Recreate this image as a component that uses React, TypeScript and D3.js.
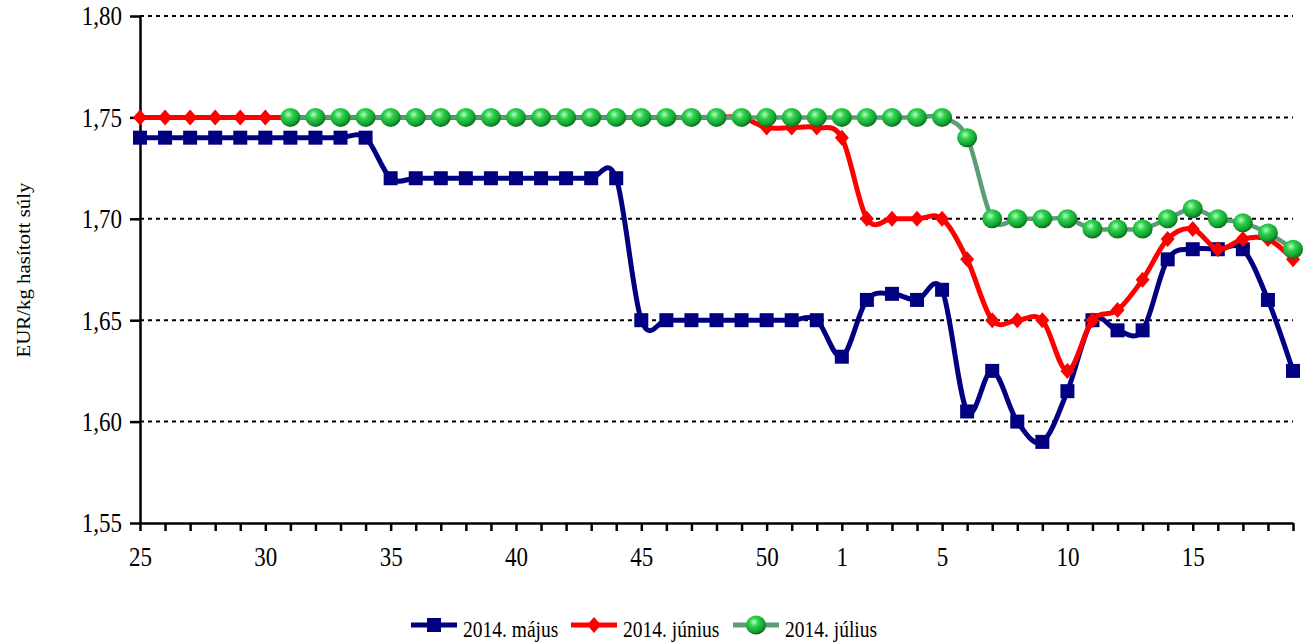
import { useEffect, useRef } from 'react';
import * as d3 from 'd3';

// week numbers from 2014 week 25 to 2015 week 19
const weeks = [
  '25', '26', '27', '28', '29', '30', '31', '32', '33', '34', '35', '36', '37', '38',
  '39', '40', '41', '42', '43', '44', '45', '46', '47', '48', '49', '50', '51', '52',
  '1', '2', '3', '4', '5', '6', '7', '8', '9', '10', '11', '12', '13', '14', '15',
  '16', '17', '18', '19',
];
const labelledWeeks = ['25', '30', '35', '40', '45', '50', '1', '5', '10', '15'];

const mayValues = [
  1.74, 1.74, 1.74, 1.74, 1.74, 1.74, 1.74, 1.74, 1.74, 1.74,
  1.72, 1.72, 1.72, 1.72, 1.72, 1.72, 1.72, 1.72, 1.72, 1.72,
  1.65, 1.65, 1.65, 1.65, 1.65, 1.65, 1.65, 1.65,
  1.632, 1.66, 1.663, 1.66, 1.665, 1.605, 1.625, 1.6, 1.59, 1.615,
  1.65, 1.645, 1.645, 1.68, 1.685, 1.685, 1.685, 1.66, 1.625,
];

const juneValues = [
  1.75, 1.75, 1.75, 1.75, 1.75, 1.75, 1.75, 1.75, 1.75, 1.75,
  1.75, 1.75, 1.75, 1.75, 1.75, 1.75, 1.75, 1.75, 1.75, 1.75,
  1.75, 1.75, 1.75, 1.75, 1.75, 1.745, 1.745, 1.745,
  1.74, 1.7, 1.7, 1.7, 1.7, 1.68, 1.65, 1.65, 1.65, 1.625,
  1.65, 1.655, 1.67, 1.69, 1.695, 1.685, 1.69, 1.69, 1.68,
];

const julyValues: (number | null)[] = [
  null, null, null, null, null, null, 1.75, 1.75, 1.75, 1.75,
  1.75, 1.75, 1.75, 1.75, 1.75, 1.75, 1.75, 1.75, 1.75, 1.75,
  1.75, 1.75, 1.75, 1.75, 1.75, 1.75, 1.75, 1.75,
  1.75, 1.75, 1.75, 1.75, 1.75, 1.74, 1.7, 1.7, 1.7, 1.7,
  1.695, 1.695, 1.695, 1.7, 1.705, 1.7, 1.698, 1.693, 1.685,
];

const seriesNames = ['2014. május', '2014. június', '2014. július'];
const seriesColors = ['#000080', '#ff0000', '#5c9c77'];
const seriesMarkers = ['square', 'diamond', 'ball'];
const yTicks = [1.55, 1.6, 1.65, 1.7, 1.75, 1.8];
const yTitle = 'EUR/kg hasított súly';

const FONT = '"Liberation Serif", "Times New Roman", serif';
const STRETCH = 1.16;

type Sel = d3.Selection<SVGGElement, unknown, null, undefined>;

function drawMarker(g: Sel, kind: string, cx: number, cy: number) {
  if (kind === 'square') {
    g.append('rect')
      .attr('x', cx - 7)
      .attr('y', cy - 7)
      .attr('width', 14)
      .attr('height', 14)
      .attr('fill', '#000080');
  } else if (kind === 'diamond') {
    g.append('path')
      .attr('d', `M${cx},${cy - 8}L${cx + 7},${cy}L${cx},${cy + 8}L${cx - 7},${cy}Z`)
      .attr('fill', '#ff0000');
  } else {
    g.append('ellipse')
      .attr('cx', cx)
      .attr('cy', cy)
      .attr('rx', 10)
      .attr('ry', 9.5)
      .attr('fill', 'url(#ballGrad)');
  }
}

function drawChart(svgElement: SVGSVGElement) {
  const svg = d3.select(svgElement);
  svg.selectAll('*').remove();

  const width = 1303;
  const height = 644;
  const margin = { top: 16, right: 10, bottom: 121, left: 140 };

  svg.attr('width', width).attr('height', height).attr('viewBox', `0 0 ${width} ${height}`);

  const defs = svg.append('defs');
  const grad = defs
    .append('radialGradient')
    .attr('id', 'ballGrad')
    .attr('cx', '40%')
    .attr('cy', '35%')
    .attr('r', '65%');
  grad.append('stop').attr('offset', '0%').attr('stop-color', '#b8ffbf');
  grad.append('stop').attr('offset', '35%').attr('stop-color', '#2fd14f');
  grad.append('stop').attr('offset', '75%').attr('stop-color', '#15a533');
  grad.append('stop').attr('offset', '100%').attr('stop-color', '#0b6e1f');

  const x = d3
    .scalePoint<string>()
    .domain(weeks)
    .range([margin.left, width - margin.right]);

  const y = d3
    .scaleLinear()
    .domain([1.55, 1.8])
    .range([height - margin.bottom, margin.top]);

  const fmt = (v: number) => d3.format('.2f')(v).replace('.', ',');

  // gridlines
  svg
    .append('g')
    .selectAll('line')
    .data(yTicks.slice(1))
    .join('line')
    .attr('x1', margin.left)
    .attr('x2', width - margin.right)
    .attr('y1', (d: number) => y(d))
    .attr('y2', (d: number) => y(d))
    .attr('stroke', '#000')
    .attr('stroke-width', 2)
    .attr('stroke-dasharray', '4,4');

  // y axis
  const yAxis = svg
    .append('g')
    .attr('transform', `translate(${margin.left},0)`)
    .call(d3.axisLeft(y).tickValues(yTicks).tickSize(10).tickSizeOuter(0).tickPadding(8).tickFormat(fmt));
  yAxis.select('.domain').attr('stroke-width', 2.5);
  yAxis.selectAll('.tick line').attr('stroke-width', 2.5);
  yAxis
    .selectAll('.tick text')
    .attr('font-family', FONT)
    .attr('font-size', 23)
    .attr('fill', '#000')
    .attr('x', 0)
    .attr('dy', '0.33em')
    .attr('transform', `translate(-18,0) scale(1,${STRETCH})`);

  // x axis
  const xAxis = svg
    .append('g')
    .attr('transform', `translate(0,${height - margin.bottom})`)
    .call(
      d3
        .axisBottom(x)
        .tickSize(8)
        .tickSizeOuter(0)
        .tickFormat((w: string) => (labelledWeeks.includes(w) ? w : ''))
    );
  xAxis.select('.domain').attr('stroke-width', 2.5);
  xAxis.selectAll('.tick line').attr('stroke-width', 2.5);
  xAxis
    .selectAll('.tick text')
    .attr('font-family', FONT)
    .attr('font-size', 23)
    .attr('fill', '#000')
    .attr('y', 0)
    .attr('dy', 0)
    .attr('transform', `translate(0,43) scale(1,${STRETCH})`);

  // series
  const allSeries: (number | null)[][] = [mayValues, juneValues, julyValues];
  allSeries.forEach((values, si) => {
    const pts = values.map((v, i) => ({ week: weeks[i], value: v }));
    const line = d3
      .line<{ week: string; value: number | null }>()
      .defined((d) => d.value != null)
      .x((d) => x(d.week) ?? 0)
      .y((d) => y(d.value as number))
      .curve(d3.curveCardinal.tension(0));

    const g = svg.append('g');
    g.append('path')
      .attr('d', line(pts) ?? '')
      .attr('fill', 'none')
      .attr('stroke', seriesColors[si])
      .attr('stroke-width', si === 2 ? 4.5 : 5)
      .attr('stroke-linejoin', 'round');

    pts
      .filter((d) => d.value != null)
      .forEach((d) => drawMarker(g as Sel, seriesMarkers[si], x(d.week) ?? 0, y(d.value as number)));
  });

  // y axis title
  svg
    .append('text')
    .attr('transform', `translate(30,270) rotate(-90) scale(${STRETCH},1)`)
    .attr('text-anchor', 'middle')
    .attr('font-family', FONT)
    .attr('font-size', 18)
    .attr('fill', '#000')
    .text(yTitle);

  // legend
  const legendStarts = [411, 571, 733];
  const legendY = 625;
  const legend = svg.append('g');
  seriesNames.forEach((name, si) => {
    const lx = legendStarts[si];
    const item = legend.append('g');
    item
      .append('line')
      .attr('x1', lx)
      .attr('x2', lx + 46)
      .attr('y1', legendY)
      .attr('y2', legendY)
      .attr('stroke', seriesColors[si])
      .attr('stroke-width', 5);
    drawMarker(item as Sel, seriesMarkers[si], lx + 23, legendY);
    item
      .append('text')
      .attr('transform', `translate(${lx + 52},637) scale(1,${STRETCH})`)
      .attr('font-family', FONT)
      .attr('font-size', 19.5)
      .attr('fill', '#000')
      .text(name);
  });
}

export default function App() {
  const svgRef = useRef<SVGSVGElement>(null);

  useEffect(() => {
    if (svgRef.current) {
      drawChart(svgRef.current);
    }
  }, []);

  return (
    <div style={{ position: 'absolute', left: 0, top: 0, width: 1303, height: 644, background: '#fff' }}>
      <svg ref={svgRef} style={{ display: 'block' }} />
    </div>
  );
}
